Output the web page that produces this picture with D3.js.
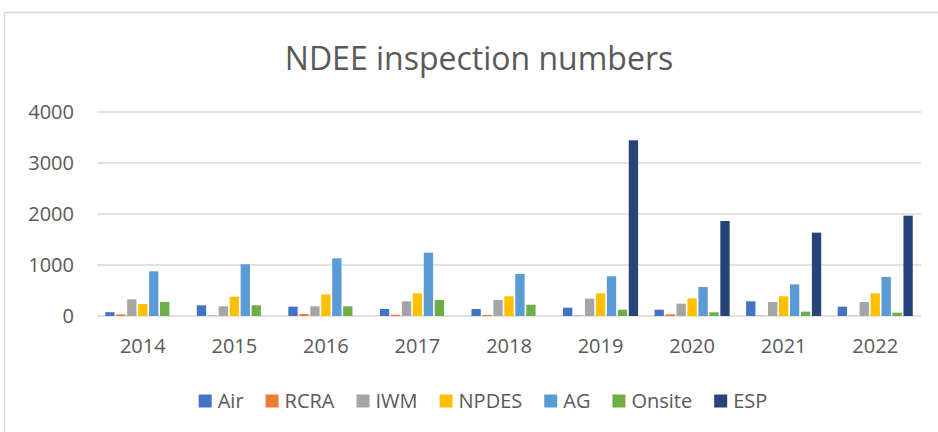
<!DOCTYPE html>
<html>
<head>
<meta charset="utf-8">
<script src="https://cdn.jsdelivr.net/npm/d3@7"></script>
<style>
  body { margin: 0; background: #fff; }
  text { font-family: "Open Sans", sans-serif; fill: #595959; }
</style>
</head>
<body>
<div id="chart"></div>
<script>
// chart data
var years = ["2014", "2015", "2016", "2017", "2018", "2019", "2020", "2021", "2022"];
var seriesNames = ["Air", "RCRA", "IWM", "NPDES", "AG", "Onsite", "ESP"];
var seriesColors = ["#4472C4", "#ED7D31", "#A5A5A5", "#FFC000", "#5B9BD5", "#70AD47", "#264478"];
var air    = [75, 210, 183, 137, 137, 163, 124, 288, 183];
var rcra   = [30, 10, 39, 25, 20, 10, 33, 5, 5];
var iwm    = [327, 190, 190, 288, 314, 340, 242, 275, 275];
var npdes  = [235, 379, 425, 444, 386, 444, 346, 386, 444];
var ag     = [876, 1013, 1131, 1242, 824, 778, 569, 621, 765];
var onsite = [275, 209, 190, 314, 222, 124, 72, 85, 65];
var esp    = [0, 0, 0, 0, 0, 3445, 1863, 1634, 1967];
var yTicks = [0, 1000, 2000, 3000, 4000];

var seriesValues = [air, rcra, iwm, npdes, ag, onsite, esp];

var width = 938, height = 432;
var plot = { left: 97, right: 921, top: 112, bottom: 316 };

var svg = d3.select("#chart").append("svg")
    .attr("width", width)
    .attr("height", height);

// chart area border
svg.append("rect")
    .attr("x", 4.5).attr("y", 12.5)
    .attr("width", 960).attr("height", 440)
    .attr("fill", "none")
    .attr("stroke", "#d9d9d9")
    .attr("stroke-width", 1.5);

svg.append("text")
    .attr("x", 479).attr("y", 70)
    .attr("text-anchor", "middle")
    .style("font-size", "32px")
    .text("NDEE inspection numbers");

var x0 = d3.scaleBand()
    .domain(years)
    .range([plot.left, plot.right])
    .paddingInner(0.18)
    .paddingOuter(0.09);

var x1 = d3.scaleBand()
    .domain(seriesNames)
    .range([0, x0.bandwidth()])
    .paddingInner(0.15);

var y = d3.scaleLinear()
    .domain([0, 4000])
    .range([plot.bottom, plot.top]);

// gridlines
svg.append("g")
    .selectAll("line")
    .data(yTicks)
    .join("line")
    .attr("x1", plot.left).attr("x2", plot.right)
    .attr("y1", d => y(d)).attr("y2", d => y(d))
    .attr("stroke", "#d9d9d9")
    .attr("stroke-width", 1.5);

// y labels
svg.append("g")
    .selectAll("text")
    .data(yTicks)
    .join("text")
    .attr("x", 74)
    .attr("y", d => y(d))
    .attr("dy", "0.35em")
    .attr("text-anchor", "end")
    .style("font-size", "20px")
    .text(d => d);

// bars
var groups = svg.append("g")
    .selectAll("g")
    .data(years)
    .join("g")
    .attr("transform", d => "translate(" + x0(d) + ",0)");

groups.selectAll("rect")
    .data((yr, i) => seriesNames.map((s, k) => ({ name: s, color: seriesColors[k], value: seriesValues[k][i] })))
    .join("rect")
    .attr("x", d => x1(d.name))
    .attr("width", x1.bandwidth())
    .attr("y", d => y(d.value))
    .attr("height", d => y(0) - y(d.value))
    .attr("fill", d => d.color);

// x labels
svg.append("g")
    .selectAll("text")
    .data(years)
    .join("text")
    .attr("x", d => x0(d) + x0.bandwidth() / 2)
    .attr("y", 346)
    .attr("dy", "0.35em")
    .attr("text-anchor", "middle")
    .style("font-size", "20px")
    .text(d => d);

// legend, centred under the chart
var legend = svg.append("g");
var items = legend.selectAll("g")
    .data(seriesNames)
    .join("g");
items.append("rect")
    .attr("width", 13).attr("height", 13)
    .attr("y", -6.5)
    .attr("fill", (d, i) => seriesColors[i]);
items.append("text")
    .attr("x", 19)
    .attr("dy", "0.35em")
    .style("font-size", "20px")
    .text(d => d);

var gap = 22;
var pos = 0;
items.each(function() {
    var w = this.querySelector("text").getComputedTextLength();
    d3.select(this).attr("transform", "translate(" + pos + ",0)");
    pos += 19 + w + gap;
});
var legendWidth = pos - gap;
legend.attr("transform", "translate(" + (483 - legendWidth / 2) + ",401)");
</script>
</body>
</html>
